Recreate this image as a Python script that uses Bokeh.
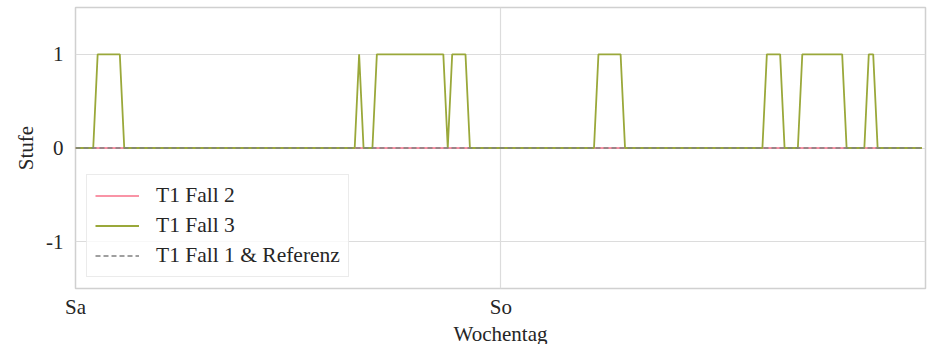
from bokeh.plotting import figure
from bokeh.models import Legend, LegendItem, FixedTicker, Range1d
from bokeh.embed import file_html
from bokeh.resources import INLINE

# 15-minute steps over two days (Sa, So)
n_steps = 192
fall3_on = [(5, 10), (64, 64), (68, 83), (85, 88), (118, 123), (156, 159), (164, 173), (179, 180)]
x_ticks = [0, 96]
x_tick_labels = ["Sa", "So"]
y_ticks = [-1, 0, 1]
y_tick_labels = ["-1", "0", "1"]

steps = list(range(n_steps))
fall2 = [0] * n_steps
fall1_ref = [0] * n_steps
fall3 = [0] * n_steps
for a, b in fall3_on:
    for i in range(a, b + 1):
        fall3[i] = 1

FONT = "Liberation Serif"

p = figure(frame_width=850, frame_height=281, output_backend="svg", toolbar_location=None,
           x_range=Range1d(0, 191.8), y_range=Range1d(-1.5, 1.5),
           min_border_left=75, min_border_right=8, min_border_top=7, min_border_bottom=54)

r2 = p.line(steps, fall2, line_color="#f77189", line_width=1.6)
r3 = p.line(steps, fall3, line_color="#9aa83a", line_width=1.8)
r1 = p.line(steps, fall1_ref, line_color="#808080", line_width=1.6, line_dash="5 3")

p.xaxis.ticker = FixedTicker(ticks=x_ticks)
p.xaxis.major_label_overrides = dict(zip(x_ticks, x_tick_labels))
p.yaxis.ticker = FixedTicker(ticks=y_ticks)
p.yaxis.major_label_overrides = dict(zip(y_ticks, y_tick_labels))

for ax in (p.xaxis[0], p.yaxis[0]):
    ax.axis_line_color = None
    ax.major_tick_line_color = None
    ax.minor_tick_line_color = None
    ax.major_tick_out = 0
    ax.major_tick_in = 0
    ax.minor_tick_out = 0
    ax.minor_tick_in = 0
    ax.major_label_text_font = FONT
    ax.major_label_text_font_size = "21px"
    ax.major_label_text_color = "#262626"
    ax.axis_label_text_font = FONT
    ax.axis_label_text_font_size = "21px"
    ax.axis_label_text_font_style = "normal"
    ax.axis_label_text_color = "#262626"

p.xaxis.axis_label = "Wochentag"
p.yaxis.axis_label = "Stufe"
p.xaxis.major_label_standoff = 6
p.xaxis.axis_label_standoff = 0
p.yaxis.major_label_standoff = 12
p.yaxis.axis_label_standoff = 5

p.xgrid.grid_line_color = "#dcdcdc"
p.ygrid.grid_line_color = "#dcdcdc"
p.xgrid.grid_line_width = 1.2
p.ygrid.grid_line_width = 1.2
p.outline_line_color = "#d0d0d0"
p.outline_line_width = 1.5
p.background_fill_color = "white"
p.border_fill_color = "white"

legend = Legend(items=[
    LegendItem(label="T1 Fall 2", renderers=[r2]),
    LegendItem(label="T1 Fall 3", renderers=[r3]),
    LegendItem(label="T1 Fall 1 & Referenz", renderers=[r1]),
], location="bottom_left")
legend.label_text_font = FONT
legend.label_text_font_size = "21.5px"
legend.label_text_color = "#262626"
legend.glyph_width = 44
legend.glyph_height = 25
legend.label_height = 25
legend.label_standoff = 17
legend.spacing = 5
legend.padding = 8
legend.margin = 11
legend.border_line_color = "#d8d8d8"
legend.border_line_width = 1
legend.background_fill_alpha = 0.8
p.add_layout(legend)

open("out.html", "w").write(file_html(p, INLINE))
